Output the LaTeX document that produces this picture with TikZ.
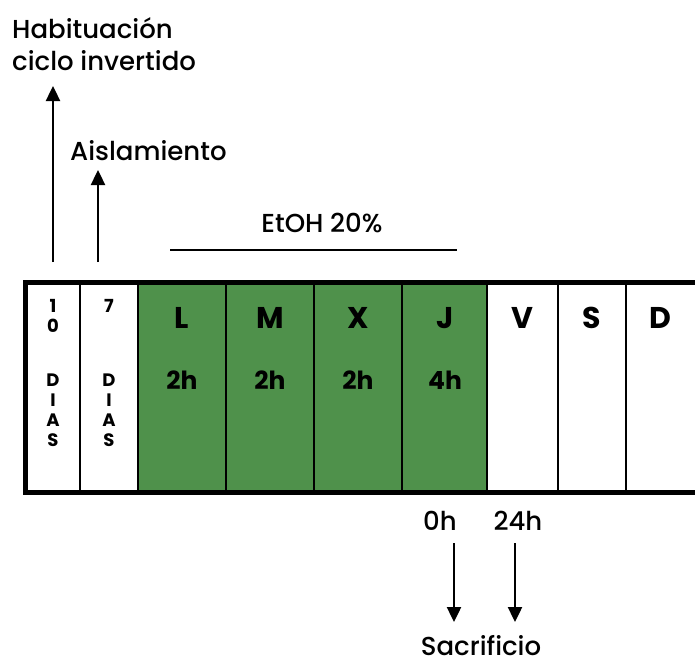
\documentclass[tikz,border=0pt]{standalone}
\usepackage{fontspec}
\setmainfont{Poppins}[UprightFont=* Medium, BoldFont=* Bold]
\usetikzlibrary{arrows.meta}
\definecolor{grn}{RGB}{79,145,75}
\tikzset{
  lbl/.style={inner sep=0pt, font=\fontsize{26}{31}\selectfont},
  day/.style={inner sep=0pt, font=\fontsize{30}{34}\selectfont\bfseries},
  hrs/.style={inner sep=0pt, font=\fontsize{25}{29}\selectfont\bfseries},
  tiny/.style={inner sep=0pt, font=\fontsize{18}{20}\selectfont\bfseries, align=center},
  arr/.style={line width=2.4pt, -{Triangle[width=14pt,length=15pt]}},
  sep/.style={line width=2pt},
}
\begin{document}
\begin{tikzpicture}[x=1pt,y=-1pt]
\useasboundingbox (0,0) rectangle (695,664);
% green fill
\fill[grn] (138,282) rectangle (487,492);
% separators
\foreach \xx in {80,138,226,314,402,487,558,626}
  \draw[sep] (\xx,282) -- (\xx,492);
% outer box
\draw[line width=5pt] (700,282.5) -- (25,282.5) -- (25,492.5) -- (700,492.5);
% day labels
\node[day] (L) at (182,318) {L};
\node[day] (M) at (270,318) {M};
\node[day] (X) at (358,318) {X};
\node[day] (J) at (445,318) {J};
\node[day] (V) at (522,318) {V};
\node[day] (S) at (592,318) {S};
\node[day] (D) at (660,318) {D};
\node[hrs] (hL) at (182,380) {2h};
\node[hrs] (hM) at (270,380) {2h};
\node[hrs] (hX) at (358,380) {2h};
\node[hrs] (hJ) at (445,380) {4h};
% small vertical texts
\node[tiny, anchor=north] (d10) at (53,299) {1\\0\\[34pt]D\\I\\A\\S};
\node[tiny, anchor=north] (d7) at (109,299) {7\\[54pt]D\\I\\A\\S};
% top labels
\node[lbl, anchor=west] (hab) at (12,28) {Habituación};
\node[lbl, anchor=west] (cic) at (12,61) {ciclo invertido};
\node[lbl, anchor=west] (ais) at (70,151) {Aislamiento};
\coordinate (a1) at (53,262);
\coordinate (a1e) at (53,86);
\coordinate (a2) at (98,262);
\coordinate (a2e) at (98,170);
\draw[arr] (a1) -- (a1e);
\draw[arr] (a2) -- (a2e);
% EtOH
\node[lbl] (etoh) at (322,223) {EtOH 20\%};
\coordinate (e1) at (170,250);
\coordinate (e2) at (457,250);
\draw[line width=2pt] (e1) -- (e2);
% bottom
\node[lbl] (h0) at (440,521) {0h};
\node[lbl] (h24) at (518,521) {24h};
\node[lbl] (sac) at (481,646) {Sacrificio};
\coordinate (b1) at (454,543);
\coordinate (b1e) at (454,622);
\coordinate (b2) at (515,543);
\coordinate (b2e) at (515,622);
\draw[arr] (b1) -- (b1e);
\draw[arr] (b2) -- (b2e);
\end{tikzpicture}
\end{document}
